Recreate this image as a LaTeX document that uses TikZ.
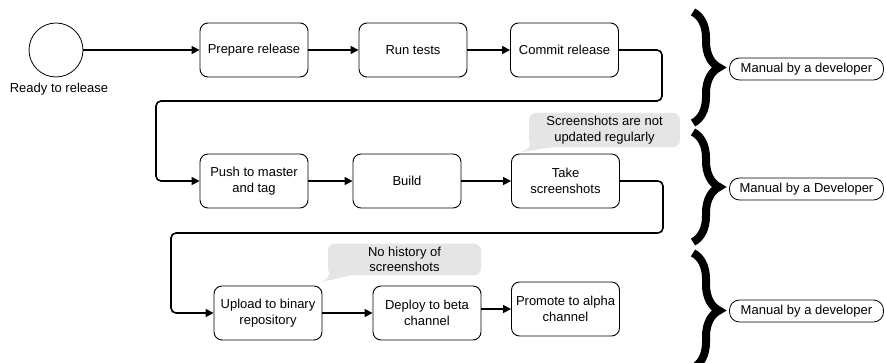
\documentclass[tikz,border=0pt]{standalone}
\usepackage{fontspec}
\setmainfont{Liberation Sans}
\usetikzlibrary{arrows.meta,decorations.pathreplacing}

\tikzset{
  stepbox/.style={draw, line width=0.9pt, rounded corners=8pt, minimum width=108pt,
    minimum height=54pt, align=center, font=\fontsize{13}{15.5}\selectfont},
  flow/.style={line width=1.6pt, rounded corners=5pt, -{Triangle[length=8pt,width=8pt]}},
  note/.style={fill=black!10, rounded corners=7pt, align=center,
    font=\fontsize{13}{15.5}\selectfont},
  manual/.style={draw, line width=0.8pt, rounded corners=10pt, minimum width=154pt,
    minimum height=22pt, font=\fontsize{13}{15}\selectfont},
  devbrace/.style={decorate, decoration={brace, amplitude=26pt}, line width=8pt}
}

\begin{document}
\begin{tikzpicture}[x=1pt, y=-1pt]
			%%%%% START %%%%%
			\useasboundingbox (0,0) rectangle (886,363);
			\clip (0,0) rectangle (886,363);
			
			% start event
			\node[draw, circle, minimum size=54pt, line width=0.8pt] (ready) at (56,50) {};
			\node[font=\fontsize{13}{15}\selectfont] (readylbl) at (59,89) {Ready to release};
			
			% first row
			\node[stepbox] (prepare) at (254,50) {Prepare release};
			\node[stepbox] (tests) at (413,50) {Run tests};
			\node[stepbox] (commit) at (564.5,50) {Commit release};
			
			% second row
			\node[stepbox] (push) at (254,181) {Push to master\\and tag};
			\node[stepbox] (build) at (407,181) {Build};
			\node[stepbox] (shots) at (565.5,181) {Take\\screenshots};
			
			% third row
			\node[stepbox] (upload) at (268,313) {Upload to binary\\repository};
			\node[stepbox] (deploy) at (427,313) {Deploy to beta\\channel};
			\node[stepbox] (promote) at (565.5,309) {Promote to alpha\\channel};
			
			% connectors
			\draw[flow] (ready) -- (prepare);
			\draw[flow] (prepare) -- (tests);
			\draw[flow] (tests) -- (commit);
			\draw[flow] (commit.east) -| (662,101) -| (156,181) -- (push.west);
			\draw[flow] (push) -- (build);
			\draw[flow] (build) -- (shots);
			\draw[flow] (shots.east) -| (663,233) -| (171,313) -- (upload.west);
			\draw[flow] (upload) -- (deploy);
			\draw[flow] (deploy.east |- promote.west) -- (promote.west);
			
			% remarks
			\node[note, minimum width=151pt, minimum height=30pt] (note1) at (604.5,130)
				{Screenshots are not\\updated regularly};
			\fill[black!10] ([xshift=3pt,yshift=6pt]note1.south west)
				.. controls (529,148) .. (522,152)
				-- ([xshift=22pt]note1.south west) -- cycle;
			
			\node[note, minimum width=153pt, minimum height=31pt] (note2) at (404.5,259.5)
				{No history of\\screenshots};
			\fill[black!10] ([xshift=3pt,yshift=6pt]note2.south west)
				.. controls (328,278) .. (322,282)
				-- ([xshift=22pt]note2.south west) -- cycle;
			
			% who does it
			\draw[devbrace] (693,12) -- (693,123);
			\draw[devbrace] (693,132) -- (693,242);
			\draw[devbrace] (693,253) -- (693,368);
			
			\node[manual] (dev1) at (806.5,69) {Manual by a developer};
			\node[manual] (dev2) at (806.5,189) {Manual by a Developer};
			\node[manual] (dev3) at (806.5,311) {Manual by a developer};
			%%%%% END %%%%%
\end{tikzpicture}
\end{document}
